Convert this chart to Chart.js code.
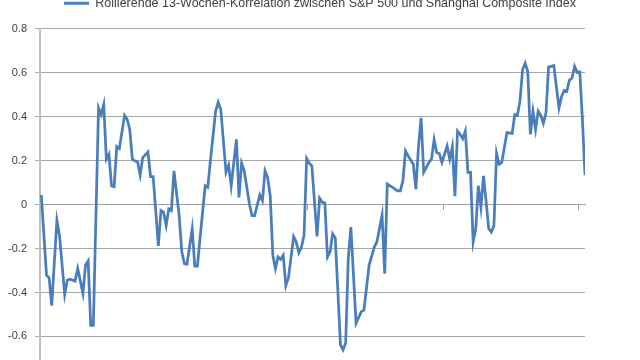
<!DOCTYPE html>
<html>
<head>
<meta charset="utf-8">
<script src="https://cdn.jsdelivr.net/npm/chart.js@4/dist/chart.umd.min.js"></script>
<style>
  html, body { margin: 0; padding: 0; width: 640px; height: 360px; overflow: hidden; background: #ffffff; }
  #wrap { position: absolute; left: 0; top: -15px; width: 640px; height: 410px; }
</style>
</head>
<body>
<div id="wrap"><canvas id="c" width="640" height="410"></canvas></div>
<script>
const seriesLabel = 'Rollierende 13-Wochen-Korrelation zwischen S&P 500 und Shanghai Composite Index';

const weeks = [0,2,3,4,6,7,9,10,11,13,14,16,17,18,19,20,22,23,24,25,26,27,28,29,30,32,33,34,35,36,37,38,39,41,42,43,45,46,47,48,49,50,51,53,54,55,56,58,59,60,61,63,64,65,67,68,69,71,72,73,75,76,77,78,80,81,82,84,85,86,87,88,89,90,91,92,93,94,95,97,98,99,100,101,102,103,104,106,107,108,109,110,111,112,113,115,116,117,118,119,121,123,124,125,126,128,129,131,132,133,135,137,138,139,140,141,143,144,145,146,147,148,149,150,151,152,153,154,156,157,158,159,160,161,162,163,164,165,166,167,168,169,170,171,172,173,174,175,176,177,179,181,182,183,184,185,186,187,188,189,190,191,192,193,194,195,197,199,200,201,202,203,204,205,206,207,208,209];

const corr = [0.044,-0.321,-0.333,-0.46,-0.072,-0.14,-0.409,-0.344,-0.339,-0.348,-0.291,-0.404,-0.276,-0.256,-0.55,-0.55,0.44,0.41,0.456,0.207,0.229,0.086,0.081,0.264,0.255,0.406,0.388,0.343,0.207,0.199,0.195,0.134,0.214,0.24,0.128,0.128,-0.188,-0.027,-0.034,-0.095,-0.019,-0.027,0.154,-0.05,-0.213,-0.268,-0.271,-0.11,-0.28,-0.28,-0.155,0.086,0.079,0.199,0.425,0.466,0.433,0.147,0.18,0.086,0.297,0.033,0.189,0.154,0.003,-0.05,-0.05,0.044,0.018,0.154,0.124,0.041,-0.231,-0.291,-0.238,-0.249,-0.231,-0.369,-0.333,-0.145,-0.17,-0.219,-0.193,-0.14,0.21,0.189,0.176,-0.145,0.029,0.011,0.008,-0.238,-0.215,-0.133,-0.151,-0.638,-0.661,-0.63,-0.246,-0.102,-0.54,-0.487,-0.48,-0.38,-0.276,-0.193,-0.17,-0.047,-0.314,0.094,0.079,0.063,0.063,0.109,0.244,0.222,0.184,0.071,0.267,0.395,0.147,0.169,0.192,0.207,0.297,0.237,0.233,0.192,0.267,0.207,0.264,0.038,0.335,0.32,0.3,0.335,0.147,0.147,-0.17,-0.11,0.086,-0.012,0.131,0.011,-0.11,-0.125,-0.095,0.234,0.184,0.192,0.328,0.324,0.41,0.406,0.47,0.614,0.644,0.606,0.32,0.425,0.342,0.425,0.406,0.37,0.418,0.626,0.633,0.44,0.493,0.52,0.516,0.566,0.576,0.629,0.602,0.604,0.388,0.134];

const xTickWeeks = [50.5, 102.5, 154.5, 206.5];

const points = weeks.map((w, i) => ({ x: w, y: corr[i] }));

const legendGap = {
  id: 'legendGap',
  beforeInit(chart) {
    const fit = chart.legend.fit;
    chart.legend.fit = function () { fit.call(this); this.height += 9.4; };
  }
};

new Chart(document.getElementById('c'), {
  type: 'line',
  data: {
    datasets: [{
      label: seriesLabel,
      data: points,
      borderColor: '#4a7ebb',
      backgroundColor: '#4a7ebb',
      borderWidth: 2.75,
      pointRadius: 0,
      tension: 0,
      fill: false
    }]
  },
  options: {
    responsive: false,
    animation: false,
    layout: { padding: { left: 0, right: 0, top: 0, bottom: 4 } },
    plugins: {
      tooltip: { enabled: false },
      legend: {
        position: 'top',
        labels: {
          boxWidth: 25,
          boxHeight: 3,
          padding: 12,
          color: '#404040',
          font: { family: 'Liberation Sans', size: 12.5 },
          generateLabels(chart) {
            return chart.data.datasets.map((ds, i) => ({
              text: ds.label, fillStyle: ds.borderColor, strokeStyle: ds.borderColor,
              lineWidth: 0, hidden: false, datasetIndex: i, fontColor: '#404040'
            }));
          }
        }
      }
    },
    scales: {
      x: {
        type: 'linear',
        min: -0.5,
        max: 209,
        position: { y: 0 },
        afterBuildTicks(scale) { scale.ticks = xTickWeeks.map(v => ({ value: v })); },
        ticks: { display: false },
        grid: { display: true, drawOnChartArea: false, drawTicks: true, tickLength: 5, color: '#a0a0a0' },
        border: { display: true, color: '#a0a0a0', width: 1 }
      },
      y: {
        min: -0.8,
        max: 0.8,
        afterFit(scale) { scale.width = 40; },
        ticks: {
          stepSize: 0.2,
          padding: 8,
          color: '#404040',
          font: { family: 'Liberation Sans', size: 11 }
        },
        grid: { color: '#a6a6a6', lineWidth: 1, tickLength: 5 },
        border: { display: true, color: '#c0c0c0', width: 2 }
      },
      yRight: {
        position: 'right',
        min: 0,
        max: 1,
        afterFit(scale) { scale.width = 55; },
        ticks: { display: false },
        grid: { display: false, drawTicks: false },
        border: { display: false }
      }
    }
  },
  plugins: [legendGap]
});
</script>
</body>
</html>
